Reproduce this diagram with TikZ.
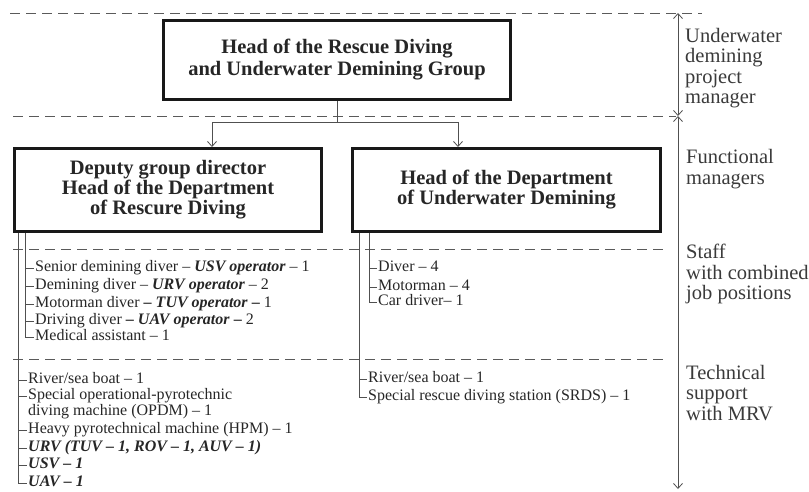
\documentclass[tikz,border=0pt]{standalone}
\usepackage{fontspec}
\setmainfont{Liberation Serif}
\usetikzlibrary{arrows.meta}
\definecolor{ink}{HTML}{262626}
\definecolor{sidetext}{HTML}{3A3A3A}
\definecolor{boxline}{HTML}{181818}
\definecolor{dashgray}{HTML}{5A5A5A}
\definecolor{linegray}{HTML}{505050}
\begin{document}
\begin{tikzpicture}[x=1pt,y=-1pt,
  hbox/.style={draw=boxline, line width=3pt, fill=white, align=center, text=ink,
    font=\fontsize{20.5}{20}\selectfont\bfseries, inner sep=0pt},
  levelline/.style={draw=dashgray, line width=1pt, dash pattern=on 10pt off 6pt},
  link/.style={draw=linegray, line width=0.8pt},
  barb/.style={-{Straight Barb[length=5pt,width=9pt]}},
  scalearr/.style={{Straight Barb[length=5pt,width=9pt]}-{Straight Barb[length=5pt,width=9pt]}},
  item/.style={anchor=west, inner xsep=1.5pt, inner ysep=0pt, text=ink,
    font=\fontsize{16}{18}\selectfont, text height=11pt, text depth=3.5pt},
  side/.style={anchor=west, inner sep=0pt, align=left, text=sidetext,
    font=\fontsize{20.5}{20.5}\selectfont},
]
\useasboundingbox (0,0) rectangle (809,491);

% level separators
\draw[levelline] (10,13) -- (702,13);
\draw[levelline] (13,116) -- (676,116);
\draw[levelline] (13,249) -- (668,249);
\draw[levelline] (13,359) -- (668,359);

% management boxes
\node[hbox, font=\fontsize{20.5}{22}\selectfont\bfseries,
  minimum width=347pt, minimum height=79pt] (head) at (337,60)
  {Head of the Rescue Diving\\and Underwater Demining Group};
\node[hbox, minimum width=307pt, minimum height=83pt] (dep) at (168,190)
  {Deputy group director\\Head of the Department\\of Rescure Diving};
\node[hbox, minimum width=308pt, minimum height=83pt] (uwd) at (506.5,190)
  {Head of the Department\\of Underwater Demining};

% subordination arrows
\coordinate (split) at (head.south |- 0,122);
\draw[link] (head.south) -- (split);
\draw[link, barb] (split) -| ([xshift=44pt]dep.north);
\draw[link, barb] (split) -| ([xshift=-48.5pt]uwd.north);

% tree trunks under the departments
\coordinate (dOut) at ([xshift=5.5pt]dep.south west);
\coordinate (dIn)  at ([xshift=12.5pt]dep.south west);
\coordinate (uOut) at ([xshift=8pt]uwd.south west);
\coordinate (uIn)  at ([xshift=18pt]uwd.south west);

% staff of the rescue diving department
\node[item] (s1) at (33.5,268) {Senior demining diver – \textbf{\textit{USV operator}} – 1};
\node[item] (s2) at (33.5,286) {Demining diver – \textbf{\textit{URV operator}} – 2};
\node[item] (s3) at (33.5,304) {Motorman diver \textbf{–} \textbf{\textit{TUV operator}} \textbf{–} 1};
\node[item] (s4) at (33.5,321) {Driving diver \textbf{–} \textbf{\textit{UAV operator}} \textbf{–} 2};
\node[item] (s5) at (33.5,337) {Medical assistant – 1};
\draw[link] (dIn) |- (s5.west);
\foreach \n in {s1,s2,s3,s4} \draw[link] (\n.west -| dIn) -- (\n.west);

% equipment of the rescue diving department
\node[item] (t1) at (26.5,380) {River/sea boat – 1};
\node[item] (t2) at (26.5,396) {Special operational-pyrotechnic};
\node[item] (t2b) at (26.5,412) {diving machine (OPDM) – 1};
\node[item] (t3) at (26.5,430) {Heavy pyrotechnical machine (HPM) – 1};
\node[item] (t4) at (26.5,448) {\textbf{\textit{URV (TUV – 1, ROV – 1, AUV – 1)}}};
\node[item] (t5) at (26.5,465) {\textbf{\textit{USV – 1}}};
\node[item] (t6) at (26.5,483) {\textbf{\textit{UAV – 1}}};
\draw[link] (dOut) |- (t6.west);
\foreach \n in {t1,t2,t3,t4,t5} \draw[link] (\n.west -| dOut) -- (\n.west);

% staff of the underwater demining department
\node[item] (r1) at (376.5,268) {Diver – 4};
\node[item] (r2) at (376.5,287) {Motorman – 4};
\node[item] (r3) at (376.5,302) {Car driver– 1};
\draw[link] (uIn) |- (r3.west);
\foreach \n in {r1,r2} \draw[link] (\n.west -| uIn) -- (\n.west);

% equipment of the underwater demining department
\node[item] (u1) at (366.5,379) {River/sea boat – 1};
\node[item] (u2) at (366.5,397) {Special rescue diving station (SRDS) – 1};
\draw[link] (uOut) |- (u2.west);
\draw[link] (u1.west -| uOut) -- (u1.west);

% level captions
\node[side] (lvl1) at (685,68) {Underwater\\demining\\project\\manager};
\node[side] (lvl2) at (686,169) {Functional\\managers};
\node[side] (lvl3) at (686,274) {Staff\\with combined\\job positions};
\node[side] (lvl4) at (686,393) {Technical\\support\\with MRV};

% level scale
\coordinate (sTop) at (678,13);
\coordinate (sMid) at (678,116);
\coordinate (sBot) at (678,489);
\draw[link, scalearr] (sTop) -- (sMid);
\draw[link, scalearr] (sMid) -- (sBot);
\end{tikzpicture}
\end{document}
